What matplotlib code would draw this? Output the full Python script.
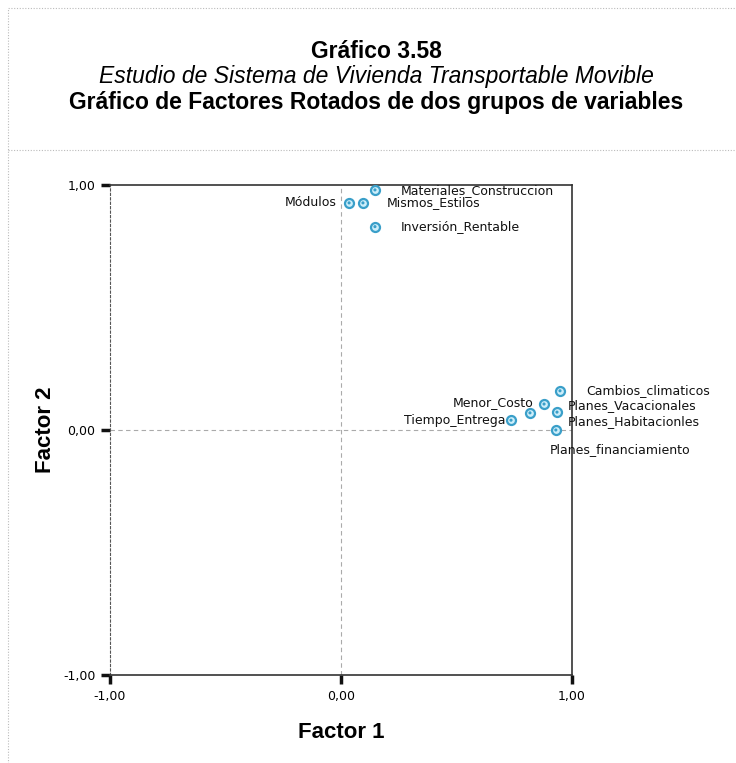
import matplotlib
matplotlib.use("Agg")
import matplotlib.pyplot as plt
from matplotlib.lines import Line2D
from matplotlib.patches import Rectangle

# data (rotated factor loadings)
variables = ["Módulos", "Mismos_Estilos", "Materiales_Construccion", "Inversión_Rentable",
             "Cambios_climaticos", "Menor_Costo", "Planes_Vacacionales",
             "Planes_Habitacionles", "Tiempo_Entrega", "Planes_financiamiento"]
factor1 = [0.035, 0.095, 0.147, 0.147, 0.948, 0.879, 0.935, 0.818, 0.736, 0.930]
factor2 = [0.927, 0.927, 0.980, 0.830, 0.160, 0.106, 0.073, 0.070, 0.040, 0.000]
ticks = [-1.0, 0.0, 1.0]
tick_labels = ["-1,00", "0,00", "1,00"]

# label offsets in pixels (dx, dy) and alignment
offsets = [(-12, 0, "right"), (24, 0, "left"), (26, -1, "left"), (26, 0, "left"),
           (26, 0, "left"), (-11, 1, "right"), (11, 7, "left"),
           (38, -9, "left"), (-6, 0, "right"), (-6, -20, "left")]

fig = plt.figure(figsize=(7.36, 7.63), dpi=100)

# dotted frame and separator
fig.add_artist(Rectangle((8 / 736, -0.05), 1.2, 1 - 8 / 763 + 0.05, transform=fig.transFigure,
                         fill=False, ec="#bbbbbb", lw=0.8, ls=(0, (1, 1.5))))
fig.add_artist(Line2D([8 / 736, 1], [1 - 150 / 763] * 2, transform=fig.transFigure,
                      color="#bbbbbb", lw=0.8, ls=(0, (1, 1.5))))

tfont = ["Liberation Sans", "DejaVu Sans"]
cx = 376 / 736
fig.text(cx, 1 - 52 / 763, "Gráfico 3.58", ha="center", va="center",
         fontsize=16.5, fontweight="bold", family=tfont)
fig.text(cx, 1 - 77 / 763, "Estudio de Sistema de Vivienda Transportable Movible",
         ha="center", va="center", fontsize=16.5, style="italic", family=tfont)
fig.text(cx, 1 - 102 / 763, "Gráfico de Factores Rotados de dos grupos de variables",
         ha="center", va="center", fontsize=16.5, fontweight="bold", family=tfont)

ax = fig.add_axes([110 / 736, 1 - 675 / 763, 462 / 736, 490 / 763])
ax.set_xlim(-1, 1)
ax.set_ylim(-1, 1)

ax.axvline(0, color="#aaaaaa", lw=0.8, ls=(0, (4, 3)))
ax.axhline(0, color="#aaaaaa", lw=0.8, ls=(0, (4, 3)))

ax.scatter(factor1, factor2, s=42, facecolor="#cdeefa", edgecolor="#3a9fc9", linewidth=1.6, zorder=3)
ax.scatter(factor1, factor2, s=5, facecolor="#3a9fc9", edgecolor="none", zorder=4)

for name, x, y, (dx, dy, ha) in zip(variables, factor1, factor2, offsets):
    ax.annotate(name, (x, y), xytext=(dx, dy), textcoords="offset pixels",
                ha=ha, va="center", fontsize=9, family="DejaVu Sans", color="#111111")

for s in ["top", "right", "bottom"]:
    ax.spines[s].set_color("#333333")
    ax.spines[s].set_linewidth(1.2)
ax.spines["left"].set_linestyle((0, (2, 2)))
ax.spines["left"].set_color("#555555")

ax.set_xticks(ticks)
ax.set_xticklabels(tick_labels)
ax.set_yticks(ticks)
ax.set_yticklabels(tick_labels)
ax.tick_params(length=6.5, width=2.5, labelsize=9, color="#111111", pad=4)

ax.set_xlabel("Factor 1", fontsize=16, fontweight="bold", family=tfont, labelpad=14)
ax.set_ylabel("Factor 2", fontsize=16, fontweight="bold", family=tfont, labelpad=5)

fig.savefig("out.png", dpi=100)
